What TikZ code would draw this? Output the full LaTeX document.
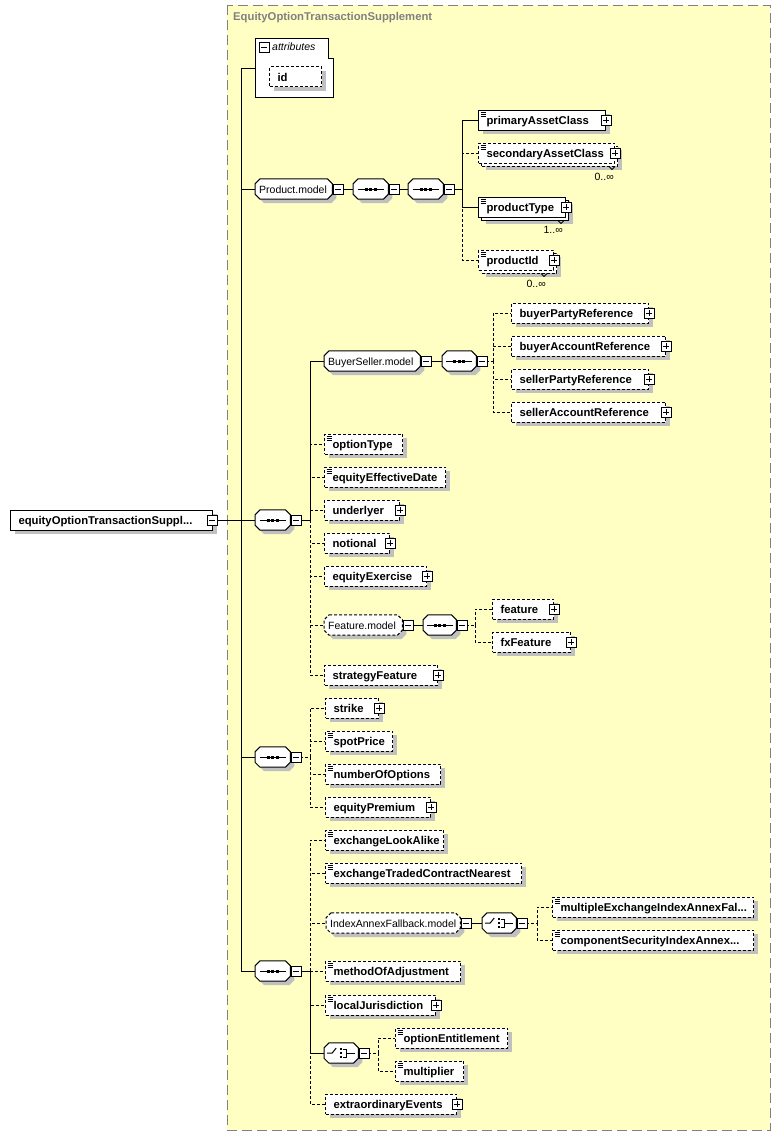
\documentclass[tikz,border=0pt]{standalone}
\usepackage{fontspec}
\setmainfont{Liberation Sans}
\usetikzlibrary{shadows}
\definecolor{xsyel}{RGB}{255,255,196}
\definecolor{xsshd}{RGB}{192,192,192}
\definecolor{xsgry}{RGB}{128,128,128}
\newcommand\elfont{\bfseries\fontsize{11.3}{13}\selectfont}
\newcommand\grpfont{\fontsize{10.5}{13}\selectfont}
\hyphenpenalty=10000
\pgfdeclarelayer{background}
\pgfsetlayers{background,main}
\tikzset{
  base/.style={minimum height=20pt,inner ysep=0pt,anchor=west,text height=9.5pt,text depth=0pt,align=left},
  el/.style={base,rectangle,draw,fill=white,line width=1pt,inner xsep=8pt,text width=#1-16pt,font=\elfont,
    drop shadow={shadow xshift=4pt,shadow yshift=-4pt,fill=xsshd,opacity=1}},
  grp/.style={base,rectangle,inner xsep=4pt,text width=#1-8pt,font=\grpfont},
  opt/.style={dash pattern=on 3pt off 2pt},
  multi/.style={drop shadow={shadow xshift=7pt,shadow yshift=-7pt,fill=xsshd,opacity=1},
    preaction={draw,fill=white,transform canvas={shift={(3pt,-3pt)}}}},
  ann/.style={path picture={\draw[solid,line width=0.8pt]
    ([shift={(2,2)}]path picture bounding box.north west) -- ++(5,0) ++(-5,2) -- ++(5,0) ++(-5,2) -- ++(5,0);}},
  ln/.style={line width=1pt},
  optln/.style={line width=1pt,dash pattern=on 3pt off 2pt},
  mult/.style={font=\grpfont,inner sep=0pt,anchor=north east},
  octo/.style={insert path={([shift={(5,0)}]#1.north west) -- ([shift={(-5,0)}]#1.north east)
    -- ([shift={(0,5)}]#1.north east) -- ([shift={(0,-5)}]#1.south east) -- ([shift={(-5,0)}]#1.south east)
    -- ([shift={(5,0)}]#1.south west) -- ([shift={(0,-5)}]#1.south west) -- ([shift={(0,5)}]#1.north west) -- cycle}},
  pics/plusbx/.style={code={
    \fill (-4,-4) rectangle (6,6);
    \draw[solid,fill=white,line width=1pt] (-5,-5) rectangle (5,5);
    \draw[solid,line width=1pt] (-3,0) -- (3,0) (0,-3) -- (0,3);}},
  pics/minusbx/.style={code={
    \fill (-4,-4) rectangle (6,6);
    \draw[solid,fill=white,line width=1pt] (-5,-5) rectangle (5,5);
    \draw[solid,line width=1pt] (-3,0) -- (3,0);}},
  pics/seqsym/.style={code={
    \draw[solid,line width=1pt] (-13,0) -- (13,0);
    \foreach \d in {-4.5,0,4.5}{\fill (\d-1.5,-1.5) rectangle (\d+1.5,1.5);}}},
  pics/chsym/.style={code={
    \draw[solid,line width=1pt] (-14,0) -- (-9,0) -- (-5,-5);
    \foreach \d in {-4,0,4}{\fill (-1,\d-1) rectangle (1,\d+1);}
    \draw[solid,line width=1pt] (2,-4) -- (5,-4) -- (5,4) -- (2,4) (5,0) -- (14,0);}},
}
\begin{document}
\begin{tikzpicture}[x=1pt,y=-1pt]
\begin{pgfonlayer}{background}
\path[use as bounding box,fill=white] (0,0) rectangle (781,1136);
\draw[xsgry,fill=xsyel,line width=1pt,dash pattern=on 10pt off 5pt] (227,5) rectangle (770,1130);
\end{pgfonlayer}
\node[font=\bfseries\fontsize{11.3}{13}\selectfont,text=xsgry,anchor=west,inner sep=0pt] (ttl) at (233,18) {EquityOptionTransactionSupplement};

% attributes
\draw[fill=white,line width=1pt] (255,38) -- (328,38) -- (328,58) -- (333,58) -- (333,97) -- (255,97) -- cycle;
\node[font=\grpfont\itshape,anchor=west,inner sep=0pt] (attl) at (272,47) {attributes};
\node[el=52,opt] (id) at (269,76.5) {id};
\coordinate (attrs) at (255,68);

% element and its content
\node[el=202] (root) at (10,520) {equityOptionTransactionSuppl...};
\node[grp=77] (pm) at (255,189) {Product.model};
\node[grp=35] (pmA) at (353,189) {};
\node[grp=35] (pmB) at (408,189) {};
\node[el=127,ann] (pac) at (478,120) {primaryAssetClass};
\node[el=136,opt,ann,multi] (sac) at (478,153) {secondaryAssetClass};
\node[el=87,ann,multi] (pty) at (478,207) {productType};
\node[el=75,opt,ann,multi] (pid) at (478,260) {productId};
\node[mult] (sacm) at ([shift={(-1,9)}]sac.south east) {0..∞};
\node[mult] (ptym) at ([shift={(-3,9)}]pty.south east) {1..∞};
\node[mult] (pidm) at ([shift={(-8,9)}]pid.south east) {0..∞};

\node[grp=35] (s1) at (255,520) {};
\node[grp=96] (bsm) at (324,361) {BuyerSeller.model};
\node[grp=34] (bsq) at (442,361) {};
\node[el=137,opt] (bpr) at (511,313) {buyerPartyReference};
\node[el=154,opt] (bar) at (511,346) {buyerAccountReference};
\node[el=137,opt] (spr) at (511,379) {sellerPartyReference};
\node[el=154,opt] (sar) at (511,412) {sellerAccountReference};
\node[el=78,opt,ann] (oty) at (324,444) {optionType};
\node[el=121,opt,ann] (eed) at (324,477) {equityEffectiveDate};
\node[el=75,opt] (und) at (324,510) {underlyer};
\node[el=65,opt] (ntl) at (324,543) {notional};
\node[el=102,opt] (eex) at (324,576) {equityExercise};
\node[grp=78] (fm) at (324,625) {Feature.model};
\node[grp=33] (fsq) at (423,625) {};
\node[el=61,opt] (fea) at (492,609) {feature};
\node[el=78,opt] (fxf) at (492,642) {fxFeature};
\node[el=113,opt] (stf) at (324,675) {strategyFeature};

\node[grp=35] (s2) at (255,757) {};
\node[el=53,opt] (stk) at (325,708) {strike};
\node[el=67,opt,ann] (spp) at (325,741) {spotPrice};
\node[el=115,opt,ann] (noo) at (325,774) {numberOfOptions};
\node[el=105,opt] (epr) at (325,807) {equityPremium};

\node[grp=35] (s3) at (255,971) {};
\node[el=118,opt,ann] (ela) at (325,840) {exchangeLookAlike};
\node[el=196,opt,ann] (etc) at (325,873) {exchangeTradedContractNearest};
\node[grp=134] (iaf) at (326,923) {IndexAnnexFallback.model};
\node[grp=34] (ch1) at (482,923) {};
\node[el=201,opt,ann] (mei) at (552,907) {multipleExchangeIndexAnnexFal...};
\node[el=201,opt,ann] (csi) at (552,940) {componentSecurityIndexAnnex...};
\node[el=135,opt,ann] (moa) at (325,971) {methodOfAdjustment};
\node[el=110,opt,ann] (lju) at (325,1005) {localJurisdiction};
\node[grp=34] (ch2) at (324,1053) {};
\node[el=112,opt,ann] (oen) at (395,1038) {optionEntitlement};
\node[el=68,opt,ann] (mlt) at (395,1071) {multiplier};
\node[el=131,opt] (eoe) at (325,1104) {extraordinaryEvents};

% group outlines, behind the labels
\begin{pgfonlayer}{background}
\foreach \n in {pm,pmA,pmB,s1,bsm,bsq,fm,fsq,s2,s3,iaf,ch1,ch2}{
  \fill[xsshd,transform canvas={shift={(4pt,-4pt)}},octo=\n];}
\foreach \n in {pm,pmA,pmB,s1,bsm,bsq,fsq,s2,s3,ch1,ch2}{\draw[ln,fill=white,octo=\n];}
\foreach \n in {fm,iaf}{\draw[optln,fill=white,octo=\n];}
\end{pgfonlayer}

% occurrence marks
\foreach \n in {sacm,ptym,pidm}{\draw[line width=0.8pt] ([shift={(-5,-6)}]\n.north east) -- ++(3,3) -- ++(3,-3);}

% connectors
\coordinate (rb) at (241,520);
\draw[ln] (root.east) -- (s1.west);
\draw[ln] (rb) |- (attrs) (rb) |- (pm.west) (rb) |- (s2.west) (rb) |- (s3.west);

\coordinate (pmb) at (462,189);
\draw[ln] (pm.east) -- (pmA.west) (pmA.east) -- (pmB.west) (pmB.east) -- (pmb);
\draw[optln] (pmb) |- (sac.west) (pmb) |- (pid.west);
\draw[ln] (pmb) |- (pac.west) (pmb) |- (pty.west);

\coordinate (s1b) at (310,520);
\draw[optln] (s1b) |- (oty.west) (s1b) |- (eed.west) (s1b) |- (und.west) (s1b) |- (ntl.west)
  (s1b) |- (eex.west) (s1b) |- (fm.west) (s1b) |- (stf.west);
\draw[ln] (s1.east) -- (s1b) (s1b) |- (bsm.west);
\coordinate (bsb) at (493,361);
\draw[ln] (bsm.east) -- (bsq.west);
\draw[optln] (bsq.east) -- (bsb) (bsb) |- (bpr.west) (bsb) |- (bar.west) (bsb) |- (spr.west) (bsb) |- (sar.west);
\coordinate (fmb) at (475,625);
\draw[ln] (fm.east) -- (fsq.west);
\draw[optln] (fsq.east) -- (fmb) (fmb) |- (fea.west) (fmb) |- (fxf.west);

\coordinate (s2b) at (310,757);
\draw[optln] (s2.east) -- (s2b) (s2b) |- (stk.west) (s2b) |- (spp.west) (s2b) |- (noo.west) (s2b) |- (epr.west);

\coordinate (s3b) at (310,971);
\draw[optln] (s3b) |- (ela.west) (s3b) |- (etc.west) (s3b) |- (iaf.west) (s3b) |- (moa.west)
  (s3b) |- (lju.west) (s3b) |- (eoe.west);
\draw[ln] (s3.east) -- (s3b) (s3b) |- (ch2.west);
\coordinate (iab) at (537,923);
\draw[ln] (iaf.east) -- (ch1.west);
\draw[optln] (ch1.east) -- (iab) (iab) |- (mei.west) (iab) |- (csi.west);
\coordinate (chb) at (378,1053);
\draw[optln] (ch2.east) -- (chb) (chb) |- (oen.west) (chb) |- (mlt.west);

% symbols and expand boxes
\foreach \n in {pmA,pmB,s1,bsq,fsq,s2,s3}{\pic at (\n.center) {seqsym};}
\foreach \n in {ch1,ch2}{\pic at (\n.center) {chsym};}
\foreach \n in {pm,pmA,pmB,s1,bsm,bsq,fm,fsq,s2,s3,iaf,ch1,ch2}{\pic at ([shift={(6,0)}]\n.east) {minusbx};}
\pic at ([shift={(-1,0)}]root.east) {minusbx};
\pic at (264,47) {minusbx};
\foreach \n in {pac,sac,pty,pid,bpr,bar,spr,sar,und,ntl,eex,fea,fxf,stf,stk,epr,lju,eoe}{\pic at (\n.east) {plusbx};}
\end{tikzpicture}
\end{document}
